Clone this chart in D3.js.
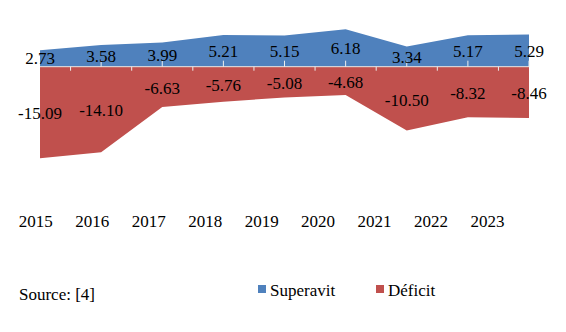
<!DOCTYPE html>
<html><head><meta charset="utf-8"><script src="https://cdn.jsdelivr.net/npm/d3@7"></script></head>
<body style="margin:0">
<script>
// data
const years = ["2015", "2016", "2017", "2018", "2019", "2020", "2021", "2022", "2023"];
const superavit = [2.73, 3.58, 3.99, 5.21, 5.15, 6.18, 3.34, 5.17, 5.29];
const deficit = [-15.09, -14.10, -6.63, -5.76, -5.08, -4.68, -10.50, -8.32, -8.46];
const seriesNames = ["Superavit", "Déficit"];

const width = 566,
    height = 332;
const serif = "'Liberation Serif', serif";

const svg = d3.select("body")
    .append("svg")
    .attr("width", width)
    .attr("height", height);

// scales
const x = d3.scalePoint()
    .domain(years)
    .range([40, 529]);

// year labels sit on their own (narrower) row
const xLabel = d3.scalePoint()
    .domain(years)
    .range([35.8, 487.5]);

const y = d3.scaleLinear()
    .domain([-20, 10])
    .range([66.7 + 20 * 6.07, 66.7 - 10 * 6.07]);

const rows = years.map((yr, i) => ({ year: yr, sup: superavit[i], def: deficit[i] }));

// areas
const areaSup = d3.area()
    .x(d => x(d.year))
    .y0(y(0))
    .y1(d => y(d.sup));

const areaDef = d3.area()
    .x(d => x(d.year))
    .y0(y(0))
    .y1(d => y(d.def));

svg.append("path")
    .datum(rows)
    .attr("d", areaSup)
    .attr("fill", "#4F81BD");

svg.append("path")
    .datum(rows)
    .attr("d", areaDef)
    .attr("fill", "#C0504D");

// zero axis with ticks: up at points, down between
const step = x.step();
const mids = years.slice(0, -1).map(yr => x(yr) + step / 2);

svg.append("line")
    .attr("x1", x(years[0]))
    .attr("x2", x(years[years.length - 1]))
    .attr("y1", y(0))
    .attr("y2", y(0))
    .attr("stroke", "#e4e4e4");

svg.selectAll("line.tickUp")
    .data(years.slice(1))
    .join("line")
    .attr("class", "tickUp")
    .attr("x1", d => x(d))
    .attr("x2", d => x(d))
    .attr("y1", y(0))
    .attr("y2", y(0) - 6)
    .attr("stroke", "#eeeeee");

svg.selectAll("line.tickDown")
    .data(mids)
    .join("line")
    .attr("class", "tickDown")
    .attr("x1", d => d)
    .attr("x2", d => d)
    .attr("y1", y(0))
    .attr("y2", y(0) + 4)
    .attr("stroke", "#eeeeee");

// all texts go in one list, drawn in one join
const texts = [];
rows.forEach(d => {
    texts.push({ x: x(d.year), y: y(d.sup / 2) + 6, t: d.sup.toFixed(2), a: "middle" });
    texts.push({ x: x(d.year), y: y(d.def / 2) + 7, t: d.def.toFixed(2), a: "middle" });
    texts.push({ x: xLabel(d.year), y: 227, t: d.year, a: "middle" });
});
texts.push({ x: 19, y: 300, t: "Source: [4]", a: "start" });
texts.push({ x: 270, y: 296, t: seriesNames[0], a: "start" });
texts.push({ x: 388, y: 296, t: seriesNames[1], a: "start" });

svg.selectAll("text")
    .data(texts)
    .join("text")
    .attr("x", d => d.x)
    .attr("y", d => d.y)
    .attr("text-anchor", d => d.a)
    .attr("font-family", serif)
    .attr("font-size", 17)
    .text(d => d.t);

// legend swatches
svg.selectAll("rect.key")
    .data([["#4F81BD", 258], ["#C0504D", 376]])
    .join("rect")
    .attr("class", "key")
    .attr("x", d => d[1])
    .attr("y", 285)
    .attr("width", 8)
    .attr("height", 8)
    .attr("fill", d => d[0]);
</script></body></html>
